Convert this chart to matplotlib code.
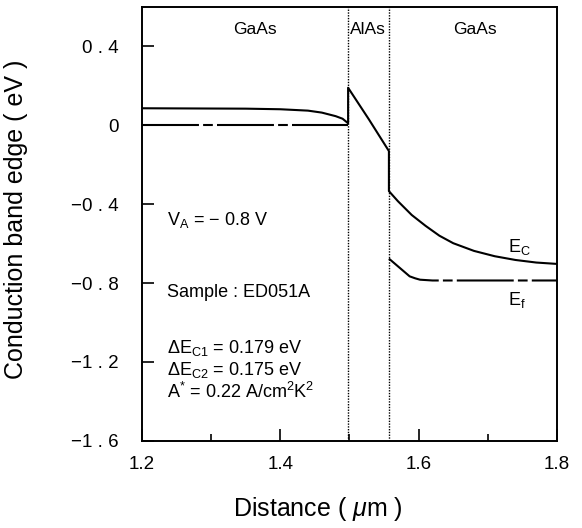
"""Conduction band edge の再描画：GaAs / AlAs / GaAs ヘテロ構造（V_A = -0.8 V）."""

import matplotlib

matplotlib.use("Agg")
import matplotlib.pyplot as plt  # noqa: E402

plt.rcParams["font.family"] = ["Liberation Sans", "DejaVu Sans"]
plt.rcParams["mathtext.fontset"] = "custom"
plt.rcParams["mathtext.rm"] = "Liberation Sans"
plt.rcParams["mathtext.it"] = "Liberation Sans:italic"
plt.rcParams["lines.scale_dashes"] = False

# 伝導帯端 Ec（左 GaAs → AlAs 障壁 → 右 GaAs）
ec_x = [1.200, 1.350, 1.400, 1.440, 1.460, 1.480, 1.490, 1.498,
        1.498, 1.528, 1.557,
        1.557, 1.570, 1.590, 1.610, 1.630, 1.650, 1.680, 1.710, 1.740, 1.770, 1.800]
ec_y = [0.086, 0.084, 0.081, 0.074, 0.064, 0.046, 0.033, 0.010,
        0.190, 0.030, -0.131,
        -0.334, -0.385, -0.455, -0.510, -0.560, -0.598, -0.637, -0.664, -0.683, -0.696, -0.703]

# フェルミ準位 Ef
ef_left_x = [1.200, 1.498]
ef_left_y = [0.0, 0.0]
ef_right_x = [1.557, 1.565, 1.575, 1.587, 1.595, 1.602, 1.620, 1.800]
ef_right_y = [-0.676, -0.700, -0.730, -0.766, -0.776, -0.783, -0.787, -0.787]

# 界面位置
interfaces = [1.498, 1.557]

regions = ["GaAs", "AlAs", "GaAs"]
region_x = [1.363, 1.527, 1.681]

x_ticks = [1.2, 1.4, 1.6, 1.8]
x_tick_labels = ["1.2", "1.4", "1.6", "1.8"]
x_minor = [1.3, 1.5, 1.7]
y_ticks = [0.4, 0.0, -0.4, -0.8, -1.2, -1.6]
y_tick_labels = ["0 . 4", "0", "\u22120 . 4", "\u22120 . 8", "\u22121 . 2", "\u22121 . 6"]

notes = [
    (-0.48, "V$_\\mathregular{A}$ = \u2212 0.8 V"),
    (-0.85, "Sample : ED051A"),
    (-1.13, r"$\Delta$E$_\mathregular{C1}$ = 0.179 eV"),
    (-1.24, r"$\Delta$E$_\mathregular{C2}$ = 0.175 eV"),
    (-1.35, r"A$^\mathregular{*}$ = 0.22 A/cm$^\mathregular{2}$K$^\mathregular{2}$"),
]

fig = plt.figure(figsize=(5.82, 5.28), dpi=100)
ax = fig.add_axes([0.244, 0.165, 0.713, 0.822])

dash = (0, (41, 3, 7, 3))
ax.plot(ec_x, ec_y, color="black", lw=1.5)
ax.plot(ef_left_x, ef_left_y, color="black", lw=1.5, linestyle=dash)
ax.plot(ef_right_x, ef_right_y, color="black", lw=1.5, linestyle=dash)
for xi in interfaces:
    ax.axvline(xi, color="black", lw=1.0, linestyle=(0, (1, 1)))

for name, xr in zip(regions, region_x):
    ax.text(xr, 0.486, name, ha="center", va="center", fontsize=12.5)

for yv, s in notes:
    ax.text(1.236, yv, s, ha="left", va="center", fontsize=13)

ax.text(1.729, -0.615, r"E$_\mathregular{C}$", ha="left", va="center", fontsize=13)
ax.text(1.729, -0.885, r"E$_\mathregular{f}$", ha="left", va="center", fontsize=13)

ax.set_xlim(1.2, 1.8)
ax.set_ylim(-1.6, 0.6)
ax.set_xticks(x_ticks)
ax.set_xticklabels(x_tick_labels, fontsize=13.5)
ax.set_xticks(x_minor, minor=True)
ax.set_yticks(y_ticks)
ax.set_yticklabels(y_tick_labels, fontsize=13.5)
ax.tick_params(axis="x", which="major", direction="in", length=8.5, width=1.2, pad=11)
ax.tick_params(axis="x", which="minor", direction="in", length=5, width=1.2)
ax.tick_params(axis="y", which="major", direction="in", length=8.5, width=1.2, pad=17)
for sp in ax.spines.values():
    sp.set_linewidth(1.4)

ax.set_xlabel("Distance ( $\\mu$m )", fontsize=18)
ax.xaxis.set_label_coords(0.424, -0.125)
ax.set_ylabel("Conduction band edge ( eV )", fontsize=18)
ax.yaxis.set_label_coords(-0.275, 0.51)

fig.savefig("out.png", dpi=100)
plt.close(fig)
